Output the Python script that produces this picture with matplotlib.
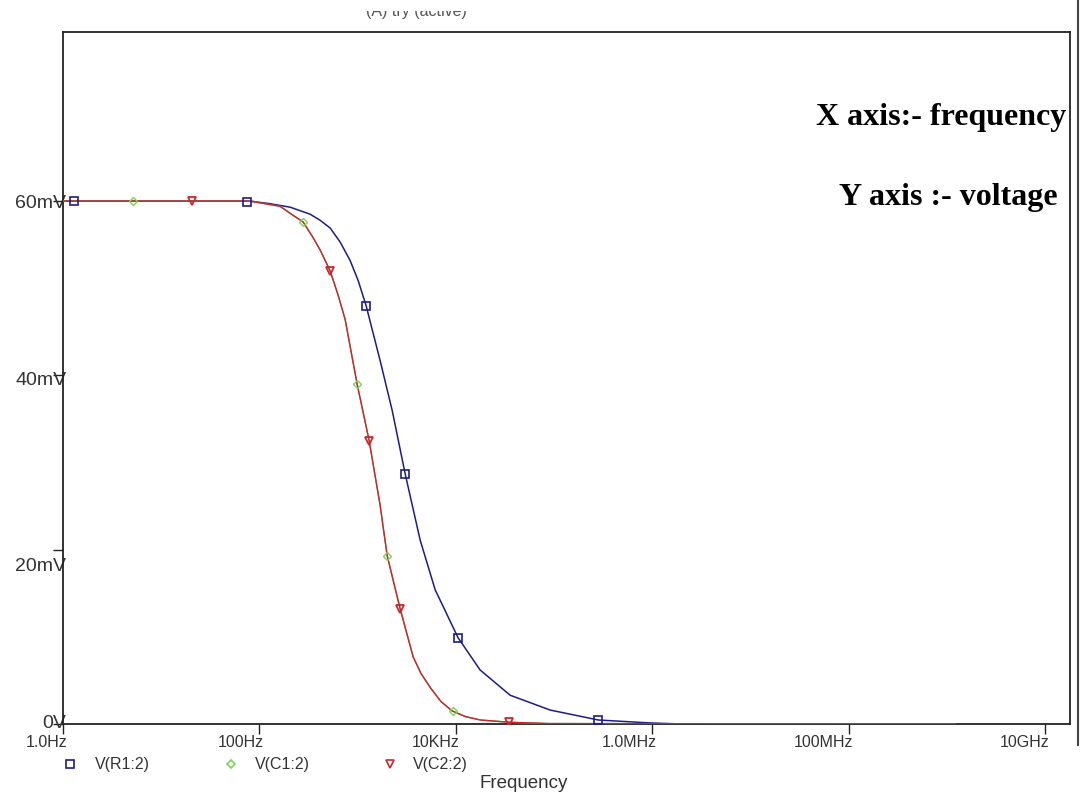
import matplotlib
matplotlib.use("Agg")
import matplotlib.pyplot as plt
import matplotlib.transforms as mtransforms
from matplotlib.lines import Line2D
from matplotlib.patches import Rectangle

# traces (Hz, mV)
freq_r1 = [1, 80, 128, 162, 205, 259, 327, 414, 525, 662, 835, 1009, 1217,
           1690, 2240, 3040, 4320, 6140, 10.5e3, 17.6e3, 35.6e3, 91e3, 281e3,
           950e3, 2e6, 1.2e9]
v_r1 = [60, 60, 59.7, 59.5, 59.3, 58.9, 58.5, 57.8, 56.9, 55.3, 53.2, 50.9, 48.0,
        41.7, 36.0, 28.7, 21.1, 15.4, 9.9, 6.2, 3.3, 1.6, 0.46,
        0.12, 0.0, 0.0]

freq_c = [1, 80, 162, 205, 278, 343, 414, 523, 632, 745, 986, 1307, 1690,
          1995, 2705, 3665, 4400, 5460, 7000, 9130, 12.5e3, 17.7e3, 34.8e3, 89e3, 1.2e9]
v_c1 = [60, 60, 59.4, 58.6, 57.6, 56.0, 54.4, 52.0, 49.2, 46.4, 39.0, 32.5, 25.1,
        19.3, 13.2, 7.7, 5.8, 4.2, 2.6, 1.5, 0.85, 0.46, 0.2, 0.05, 0.0]
v_c2 = v_c1

# marker positions on each trace
mk_r1_f = [1.3, 75, 1217, 3040, 10.5e3, 281e3]
mk_r1_v = [60, 59.9, 48.0, 28.7, 9.9, 0.46]
mk_c1_f = [5.2, 278, 986, 1995, 9350]
mk_c1_v = [60, 57.6, 39.0, 19.3, 1.5]
mk_c2_f = [20.6, 523, 1307, 2705, 34.8e3]
mk_c2_v = [60, 52.0, 32.5, 13.2, 0.2]

x_ticks = [1, 100, 1e4, 1e6, 1e8, 1e10]
x_labels = ["1.0Hz", "100Hz", "10KHz", "1.0MHz", "100MHz", "10GHz"]
y_ticks = [0, 20, 40, 60]
y_labels = ["0V", "20mV", "40mV", "60mV"]

BLUE = "#1c1c8a"
GREEN = "#7bd35a"
RED = "#c8282c"
TXT = "#333333"

plt.rcParams["font.family"] = ["Liberation Sans", "DejaVu Sans"]

fig = plt.figure(figsize=(10.81, 7.93), dpi=100)
ax = fig.add_axes([63 / 1081, 1 - 724 / 793, (1070 - 63) / 1081, (724 - 32) / 793])

ax.plot(freq_r1, v_r1, color=BLUE, lw=1.1, zorder=3)
ax.plot(freq_c, v_c1, color="#7a9a5a", lw=1.0, zorder=3)
ax.plot(freq_c, v_c2, color=RED, lw=1.0, zorder=4)

ax.plot(mk_r1_f, mk_r1_v, ls="none", marker="s", ms=6, mfc="none", mec=BLUE, mew=1.2, zorder=5)
ax.plot(mk_c1_f, mk_c1_v, ls="none", marker="D", ms=4.5, mfc="none", mec=GREEN, mew=1.0, zorder=5)
ax.plot(mk_c2_f, mk_c2_v, ls="none", marker="v", ms=6, mfc="none", mec=RED, mew=1.3, zorder=5)

ax.set_xscale("log")
ax.set_xlim(1, 10 ** 10.25)
ax.set_ylim(0, 79.4)
ax.minorticks_off()
ax.set_xticks(x_ticks)
ax.set_xticklabels(x_labels)
ax.set_yticks(y_ticks)
ax.set_yticklabels(y_labels)

ax.tick_params(axis="both", direction="out", length=7.2, width=1.0, color="#222222",
               labelcolor=TXT)
ax.tick_params(axis="x", labelsize=11.5, pad=0.5)
ax.tick_params(axis="y", labelsize=14, pad=-9.5)
shift = mtransforms.ScaledTranslation(4 / 100, 0, fig.dpi_scale_trans)
for lab in ax.get_xticklabels():
    lab.set_horizontalalignment("right")
    lab.set_transform(lab.get_transform() + shift)

# the y labels in the screenshot sit a little off their ticks
y_drop = [3, -15, -3, 0]
for lab, dy in zip(ax.get_yticklabels(), y_drop):
    lab.set_transform(lab.get_transform()
                      + mtransforms.ScaledTranslation(0, dy / 100, fig.dpi_scale_trans))

for s in ax.spines.values():
    s.set_color("#222222")
    s.set_linewidth(1.3)

# legend row under the axis
legend_items = [("s", BLUE, 70, 95, "V(R1:2)", 6),
                ("D", GREEN, 231, 255, "V(C1:2)", 4.5),
                ("v", RED, 390, 413, "V(C2:2)", 6)]
for mk, col, mx, tx, label, ms in legend_items:
    fig.add_artist(Line2D([mx / 1081], [1 - 764 / 793], marker=mk, ms=ms, mfc="none",
                          mec=col, mew=1.2, ls="none", transform=fig.transFigure))
    fig.text(tx / 1081, 1 - 764 / 793, label, fontsize=11.5, color=TXT, va="center", ha="left")

fig.text(524 / 1081, 1 - 784 / 793, "Frequency", fontsize=13.5, color=TXT, ha="center", va="center")

# cropped title at the very top
fig.text(416 / 1081, 1 - 16 / 793, "(A) try (active)", fontsize=11.5, color="#555555",
         ha="center", va="baseline")
fig.add_artist(Rectangle((0, 1 - 11 / 793), 1, 11 / 793, transform=fig.transFigure,
                         facecolor="white", edgecolor="none", zorder=10))

# notes typed over the screenshot
fig.text(1066 / 1081, 1 - 117 / 793, "X axis:- frequency", fontsize=23, fontweight="bold",
         family="Liberation Serif", ha="right", va="center")
fig.text(1058 / 1081, 1 - 197 / 793, "Y axis :- voltage", fontsize=23, fontweight="bold",
         family="Liberation Serif", ha="right", va="center")

# outer frame edge at the right of the screenshot
fig.add_artist(Line2D([1078 / 1081, 1078 / 1081], [1 - 745 / 793, 1.0], color="#444444",
                      lw=1.5, transform=fig.transFigure, zorder=11))

fig.savefig("out.png", dpi=100, facecolor="white")
